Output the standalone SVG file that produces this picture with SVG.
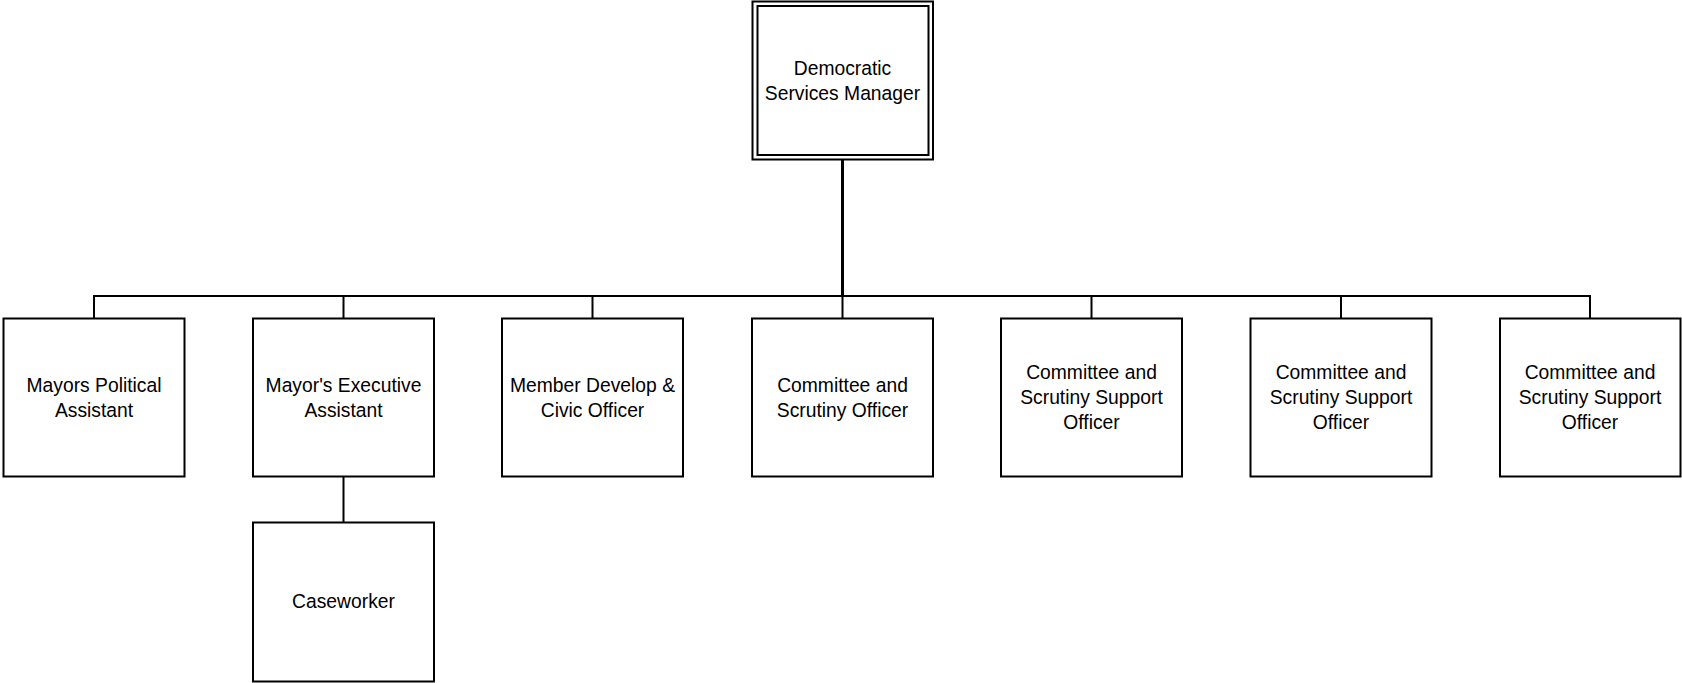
<svg xmlns="http://www.w3.org/2000/svg" width="1682" height="683" viewBox="0 0 1682 683">
<style>
.box{fill:#fff;stroke:#000;stroke-width:2}
.ln{fill:none;stroke:#000;stroke-width:2}
text{font-family:"Liberation Sans",Arial,sans-serif;font-size:19.3px;fill:#000;text-anchor:middle}
</style>
<rect width="1682" height="683" fill="#fff"/>
<g id="connectors">
<line class="ln" x1="842.5" y1="159" x2="842.5" y2="296" style="stroke-width:3"/>
<line class="ln" x1="93" y1="296" x2="1591" y2="296"/>
<line class="ln" x1="94" y1="296" x2="94" y2="318"/>
<line class="ln" x1="343.5" y1="296" x2="343.5" y2="318"/>
<line class="ln" x1="592.5" y1="296" x2="592.5" y2="318"/>
<line class="ln" x1="842.5" y1="296" x2="842.5" y2="318"/>
<line class="ln" x1="1091.5" y1="296" x2="1091.5" y2="318"/>
<line class="ln" x1="1341" y1="296" x2="1341" y2="318"/>
<line class="ln" x1="1590" y1="296" x2="1590" y2="318"/>
<line class="ln" x1="343.5" y1="477" x2="343.5" y2="522"/>
</g>
<g id="manager">
<rect class="box" x="752.5" y="1.5" width="180.5" height="158"/>
<rect class="box" x="757.5" y="6" width="171" height="149"/>
<text x="842.5" y="74.5">Democratic</text>
<text x="842.5" y="99.5">Services Manager</text>
</g>
<g id="n1">
<rect class="box" x="3.5" y="318.5" width="181" height="158"/>
<text x="94" y="391.5">Mayors Political</text>
<text x="94" y="416.5">Assistant</text>
</g>
<g id="n2">
<rect class="box" x="253" y="318.5" width="181" height="158"/>
<text x="343.5" y="391.5">Mayor's Executive</text>
<text x="343.5" y="416.5">Assistant</text>
</g>
<g id="n3">
<rect class="box" x="502" y="318.5" width="181" height="158"/>
<text x="592.5" y="391.5">Member Develop &amp;</text>
<text x="592.5" y="416.5">Civic Officer</text>
</g>
<g id="n4">
<rect class="box" x="752" y="318.5" width="181" height="158"/>
<text x="842.5" y="391.5">Committee and</text>
<text x="842.5" y="416.5">Scrutiny Officer</text>
</g>
<g id="n5">
<rect class="box" x="1001" y="318.5" width="181" height="158"/>
<text x="1091.5" y="379">Committee and</text>
<text x="1091.5" y="404">Scrutiny Support</text>
<text x="1091.5" y="429">Officer</text>
</g>
<g id="n6">
<rect class="box" x="1250.5" y="318.5" width="181" height="158"/>
<text x="1341" y="379">Committee and</text>
<text x="1341" y="404">Scrutiny Support</text>
<text x="1341" y="429">Officer</text>
</g>
<g id="n7">
<rect class="box" x="1500" y="318.5" width="180.5" height="158"/>
<text x="1590" y="379">Committee and</text>
<text x="1590" y="404">Scrutiny Support</text>
<text x="1590" y="429">Officer</text>
</g>
<g id="n8">
<rect class="box" x="253" y="522.5" width="181" height="159"/>
<text x="343.5" y="608">Caseworker</text>
</g>
</svg>
